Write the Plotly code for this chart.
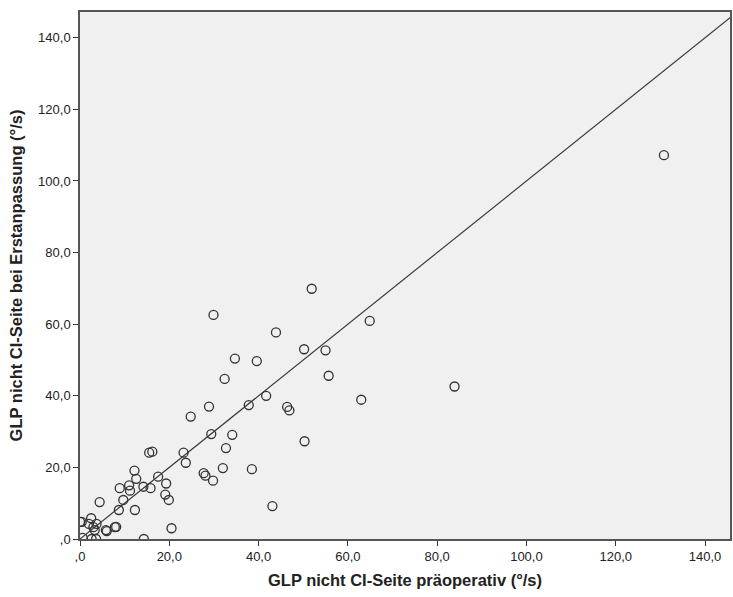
import plotly.graph_objects as go

# GLP nicht CI-Seite präoperativ (x) vs. bei Erstanpassung (y), °/s
x_praeop = [130.8, 83.9, 64.9, 63.0, 55.7, 55.0, 51.9, 50.2, 50.3, 46.4, 46.9,
            43.9, 43.1, 41.7, 39.6, 38.5, 37.8, 34.7, 34.1, 32.7, 32.4, 32.0,
            29.9, 29.8, 29.4, 28.9, 28.1, 27.7, 24.8, 23.7, 23.2, 20.5, 19.9,
            19.3, 19.1, 17.5, 16.2, 15.8, 15.5, 14.3, 14.2, 12.6, 12.3, 12.2,
            11.2, 11.0, 9.7, 8.9, 8.7, 8.1, 6.0, 4.4, 3.6, 3.7, 3.3, 3.0,
            2.5, 2.0, 2.6, 0.4, 0.0, 5.8, 7.8, 0.6]
y_erstanp = [107.2, 42.6, 60.9, 38.9, 45.6, 52.7, 69.9, 53.0, 27.3, 36.9, 35.9,
             57.7, 9.2, 40.0, 49.7, 19.5, 37.4, 50.4, 29.1, 25.4, 44.7, 19.8,
             62.6, 16.3, 29.3, 37.0, 17.7, 18.4, 34.2, 21.3, 24.1, 3.0, 10.9,
             15.5, 12.4, 17.4, 24.4, 14.2, 24.1, 0.0, 14.6, 16.8, 8.1, 19.1,
             13.5, 15.0, 10.9, 14.2, 8.1, 3.4, 2.2, 10.3, 0.0, 4.2, 2.5, 3.3,
             5.8, 4.2, 0.0, 4.8, 4.8, 2.5, 3.3, 0.3]

ref_line = [0, 150]

tick_vals = [0, 20, 40, 60, 80, 100, 120, 140]
tick_text = [",0", "20,0", "40,0", "60,0", "80,0", "100,0", "120,0", "140,0"]

x_title = "GLP nicht CI-Seite präoperativ (°/s)"
y_title = "GLP nicht CI-Seite bei Erstanpassung (°/s)"

fig = go.Figure()
fig.add_trace(go.Scatter(
    x=ref_line, y=ref_line, mode="lines",
    line=dict(color="#3a3a3a", width=1.2), hoverinfo="skip", showlegend=False))
fig.add_trace(go.Scatter(
    x=x_praeop, y=y_erstanp, mode="markers",
    marker=dict(symbol="circle-open", size=9, color="#333333",
                line=dict(width=1.3, color="#333333")),
    showlegend=False))

axis_common = dict(
    tickvals=tick_vals, ticktext=tick_text,
    showgrid=False, zeroline=False,
    showline=True, linecolor="#555555", linewidth=1.5, mirror=True,
    ticks="outside", ticklen=5, tickwidth=1.2, tickcolor="#333333",
    tickfont=dict(family="Liberation Sans, Arial, sans-serif", size=13, color="#222222"),
)

fig.update_layout(
    width=733, height=597,
    margin=dict(l=80, r=1, t=12, b=58),
    paper_bgcolor="white", plot_bgcolor="#f0f0f0",
    xaxis=dict(range=[0, 145.6], **axis_common,
               title=dict(text=x_title, standoff=11,
                          font=dict(family="Liberation Sans, Arial, sans-serif",
                                    size=16.5, color="#222222", weight="bold"))),
    yaxis=dict(range=[0, 147.2], **axis_common,
               title=dict(text=y_title, standoff=11,
                          font=dict(family="Liberation Sans, Arial, sans-serif",
                                    size=16.5, color="#222222", weight="bold"))),
)

fig.write_html("out.html")
